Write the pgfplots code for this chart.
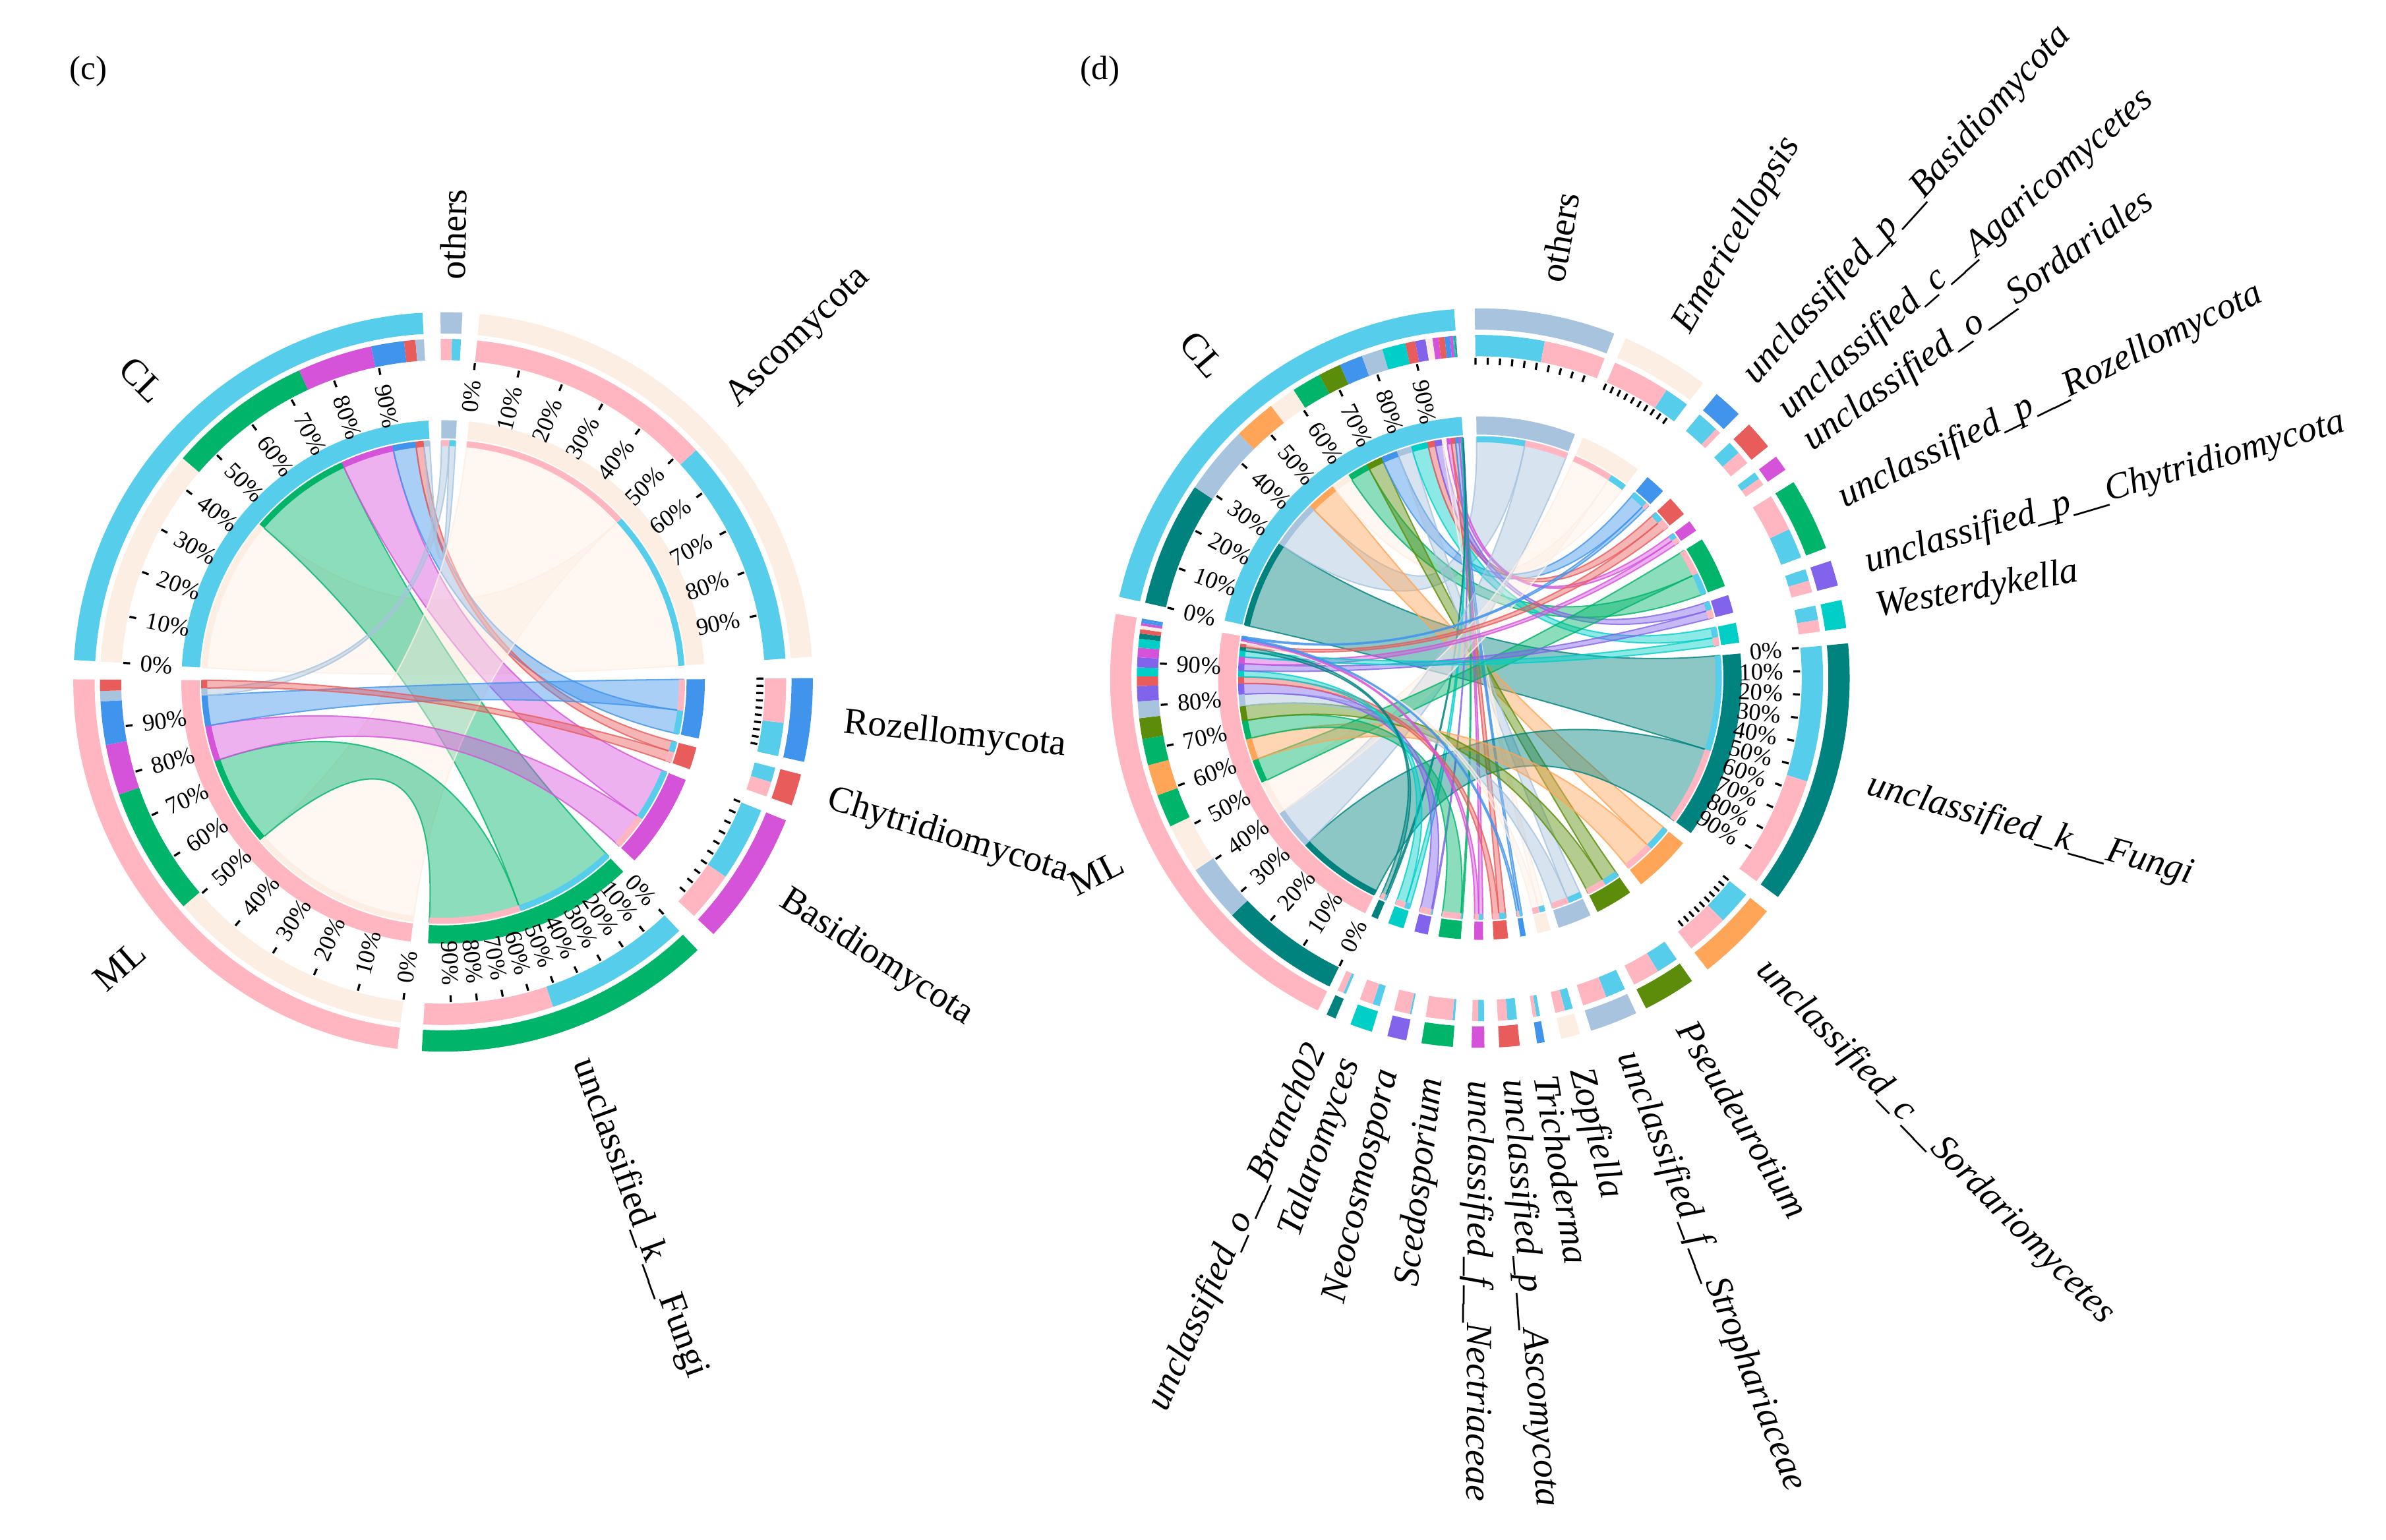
\documentclass[border=0pt]{standalone}
\usepackage{fontspec}
\setmainfont{Liberation Serif}
\usepackage{pgfplots}
\pgfplotsset{compat=1.18}

\definecolor{colCL}{HTML}{56CDEB}
\definecolor{colML}{HTML}{FFB6C1}
\definecolor{colSteel}{HTML}{A7C3DE}
\definecolor{colPeach}{HTML}{FDEEE3}
\definecolor{colBlue}{HTML}{4194EC}
\definecolor{colRed}{HTML}{E95C5C}
\definecolor{colMag}{HTML}{D453D9}
\definecolor{colGreen}{HTML}{00B46A}
\definecolor{colPurple}{HTML}{8264EC}
\definecolor{colTurq}{HTML}{00CFC8}
\definecolor{colTeal}{HTML}{00837F}
\definecolor{colOrange}{HTML}{FFA557}
\definecolor{colOlive}{HTML}{5B8D0A}

% sector: name, start angle, end angle (clockwise), colour
\newcommand\defsec[4]{\expandafter\def\csname sS#1\endcsname{#2}\expandafter\def\csname sE#1\endcsname{#3}\expandafter\def\csname sC#1\endcsname{#4}}

% ---- panel (c)
\defsec{cCL}{176.6}{93.2}{colCL}
\defsec{cot}{90.4}{87.0}{colSteel}
\defsec{cAs}{84.3}{3.9}{colPeach}
\defsec{cRo}{0.6}{-12.5}{colBlue}
\defsec{cCh}{-14.5}{-19.5}{colRed}
\defsec{cBa}{-22.0}{-43.0}{colMag}
\defsec{cUk}{-46.5}{-93.3}{colGreen}
\defsec{cML}{262.9}{179.6}{colML}
% group/percent from/percent to/taxon/fraction from/fraction to
\def\linksc{cCL/0/44.7/cAs/0.52/1, cCL/44.7/74.1/cUk/0/0.53, cCL/74.1/89.3/cBa/0/0.6, cCL/89.3/96.0/cRo/0.57/1, cCL/96.0/98.3/cCh/0/0.5, cCL/98.3/100/cot/0.55/1,
 cML/0/50.5/cAs/0/0.52, cML/50.5/76.5/cUk/0.53/1, cML/76.5/86.8/cBa/0.6/1, cML/86.8/95.6/cRo/0/0.57, cML/95.6/97.7/cot/0/0.55, cML/97.7/100/cCh/0.5/1}

% ---- panel (d)
\defsec{dCL}{167.3}{94.0}{colCL}
\defsec{dML}{244.0}{170.0}{colML}
\defsec{dot}{90.8}{68.7}{colSteel}
\defsec{dEm}{66.8}{52.9}{colPeach}
\defsec{dpB}{50.2}{45.6}{colBlue}
\defsec{dcA}{43.3}{38.8}{colRed}
\defsec{doS}{36.8}{34.3}{colMag}
\defsec{dpR}{32.0}{20.6}{colGreen}
\defsec{dpC}{18.5}{14.5}{colPurple}
\defsec{dWe}{12.2}{7.8}{colTurq}
\defsec{dkF}{5.4}{-36.3}{colTeal}
\defsec{dcS}{-39.1}{-52.0}{colOrange}
\defsec{dPs}{-55.0}{-63.3}{colOlive}
\defsec{dfS}{-65.0}{-72.5}{colSteel}
\defsec{dZo}{-74.3}{-77.3}{colPeach}
\defsec{dTr}{-79.9}{-81.1}{colBlue}
\defsec{dpA}{-83.8}{-87.0}{colRed}
\defsec{dfN}{-89.3}{-91.3}{colMag}
\defsec{dSc}{-94.2}{-99.1}{colGreen}
\defsec{dNe}{-101.5}{-104.5}{colPurple}
\defsec{dTa}{-107.0}{-110.5}{colTurq}
\defsec{doB}{-113.0}{-114.5}{colTeal}
\def\linksd{dCL/0/28.8/dkF/0/0.55, dCL/28.8/44.6/dot/0/0.53, dCL/44.6/54.3/dcS/0/0.45, dCL/54.3/60.6/dEm/0.7/1, dCL/60.6/67.4/dpR/0.55/1,
 dCL/67.4/72.6/dPs/0/0.45, dCL/72.6/78.0/dpB/0/0.8, dCL/78.0/82.9/dfS/0/0.45, dCL/82.9/88.3/dWe/0/0.55, dCL/88.3/90.6/dcA/0/0.5,
 dCL/90.6/93.0/dpC/0/0.5, dCL/93.0/94.6/dZo/0/0.45, dCL/94.6/96.0/doS/0/0.5, dCL/96.0/97.4/dpA/0/0.5, dCL/97.4/98.6/dTr/0/0.5,
 dCL/98.6/99.3/dfN/0/0.5, dCL/99.3/99.6/dTa/0/0.35, dCL/99.6/99.8/dSc/0/0.08, dCL/99.8/99.9/dNe/0/0.1, dCL/99.9/100/doB/0/0.3,
 dML/0/27.4/dkF/0.55/1, dML/27.4/40.5/dot/0.53/1, dML/40.5/51.9/dEm/0/0.7, dML/51.9/59.5/dpR/0/0.55, dML/59.5/66.6/dcS/0.45/1,
 dML/66.6/72.6/dSc/0.08/1, dML/72.6/77.4/dPs/0.45/1, dML/77.4/81.2/dfS/0.45/1, dML/81.2/84.7/dNe/0.1/1, dML/84.7/86.9/dpA/0.5/1,
 dML/86.9/88.9/dTa/0.35/1, dML/88.9/91.2/dpC/0.5/1, dML/91.2/93.4/doS/0.5/1, dML/93.4/95.4/dWe/0.55/1, dML/95.4/96.6/doB/0.3/1,
 dML/96.6/97.6/dcA/0.5/1, dML/97.6/98.4/dZo/0.45/1, dML/98.4/99.0/dfN/0.5/1, dML/99.0/99.5/dTr/0.5/1, dML/99.5/100/dpB/0.8/1}

\tikzset{labf/.style={font=\fontsize{6.9}{8}\selectfont,inner sep=0pt},
 pctf/.style={font=\fontsize{4.5}{5}\selectfont,inner sep=0pt}}

\newcommand\band[5]{\fill[fill=#5] (#1:#3) arc[start angle=#1,end angle=#2,radius=#3] -- (#2:#4) arc[start angle=#2,end angle=#1,radius=#4] -- cycle;}

\newcommand\secloop[1]{\foreach \nm in {#1}{%
  \edef\sS{\csname sS\nm\endcsname}\edef\sE{\csname sE\nm\endcsname}\edef\sC{\csname sC\nm\endcsname}%
  \band{\sS}{\sE}{229}{243}{\sC}\band{\sS}{\sE}{160}{172}{\sC}}}

\newcommand\linkloop[2]{\foreach \grp/\xa/\xb/\tax/\ya/\yb in #1{%
  \edef\gS{\csname sS\grp\endcsname}\edef\gE{\csname sE\grp\endcsname}\edef\gC{\csname sC\grp\endcsname}%
  \edef\tS{\csname sS\tax\endcsname}\edef\tE{\csname sE\tax\endcsname}\edef\tC{\csname sC\tax\endcsname}%
  \pgfmathsetmacro\Aa{\gS-(\xa)/100*(\gS-(\gE))}%
  \pgfmathsetmacro\Ab{\gS-(\xb)/100*(\gS-(\gE))}%
  \pgfmathsetmacro\Ba{\tS-(\ya)*(\tS-(\tE))}%
  \pgfmathsetmacro\Bb{\tS-(\yb)*(\tS-(\tE))}%
  \ifnum#2=1\relax
   \fill[fill=\tC,fill opacity=0.45,draw=\tC,draw opacity=0.8,line width=0.25pt] (\Aa:158) arc[start angle=\Aa,end angle=\Ab,radius=158] .. controls (\Ab:55) and (\Ba:55) .. (\Ba:158) arc[start angle=\Ba,end angle=\Bb,radius=158] .. controls (\Bb:55) and (\Aa:55) .. cycle;%
  \else
   \band{\Aa}{\Ab}{211.5}{225.5}{\tC}\band{\Aa}{\Ab}{155}{159}{\tC}%
   \band{\Ba}{\Bb}{211.5}{225.5}{\gC}\band{\Ba}{\Bb}{155}{159}{\gC}%
  \fi}}

\newcommand\tickloop[1]{\foreach \nm/\md in {#1}{%
  \edef\sS{\csname sS\nm\endcsname}\edef\sE{\csname sE\nm\endcsname}%
  \foreach \kk in {0,...,9}{%
   \pgfmathsetmacro\ang{\sS-\kk/10*(\sS-(\sE))}%
   \draw[line width=0.4pt] (\ang:206) -- (\ang:210.5);%
   \ifnum\md=2\relax
    \pgfmathtruncatemacro\pc{10*\kk}%
    \pgfmathtruncatemacro\rt{cos(\ang)>-0.035}%
    \ifnum\rt=1\relax
     \node[pctf,rotate=\ang,anchor=east] at (\ang:200) {\pc\%};%
    \else
     \pgfmathsetmacro\rotang{\ang+180}%
     \node[pctf,rotate=\rotang,anchor=west] at (\ang:200) {\pc\%};%
    \fi
   \fi}}}

\newcommand\nameloop[1]{\foreach \nm/\txt in {#1}{%
  \edef\sS{\csname sS\nm\endcsname}\edef\sE{\csname sE\nm\endcsname}%
  \pgfmathsetmacro\ang{(\sS+\sE)/2}%
  \pgfmathtruncatemacro\rt{cos(\ang)>-0.035}%
  \ifnum\rt=1\relax
   \node[labf,rotate=\ang,anchor=west] at (\ang:264) {\txt};%
  \else
   \pgfmathsetmacro\rotang{\ang+180}%
   \node[labf,rotate=\rotang,anchor=east] at (\ang:264) {\txt};%
  \fi}}

\begin{document}
\begin{tikzpicture}[x=0.01cm,y=0.01cm]

\begin{axis}[at={(2.91cm,5.635cm)},anchor=center,x=0.01cm,y=0.01cm,
  xmin=-280,xmax=280,ymin=-280,ymax=280,hide axis,clip=false]
\pgfplotsextra{%
 \begin{scope}[shift={(axis cs:0,0)},x=0.01cm,y=0.01cm]
  \linkloop\linksc{1}
  \secloop{cCL,cML,cot,cAs,cRo,cCh,cBa,cUk}
  \linkloop\linksc{2}
  \tickloop{cCL/2,cML/2,cAs/2,cUk/2,cBa/1,cRo/1}
  \nameloop{cCL/CL,cML/ML,cot/others,cAs/Ascomycota,cRo/Rozellomycota,cCh/Chytridiomycota,cBa/Basidiomycota,cUk/unclassified\_k\_\_Fungi}
 \end{scope}}
\end{axis}

\begin{axis}[at={(9.72cm,5.66cm)},anchor=center,x=0.01cm,y=0.01cm,
  xmin=-280,xmax=280,ymin=-280,ymax=280,hide axis,clip=false]
\pgfplotsextra{%
 \begin{scope}[shift={(axis cs:0,0)},x=0.01cm,y=0.01cm]
  \linkloop\linksd{1}
  \secloop{dCL,dML,dot,dEm,dpB,dcA,doS,dpR,dpC,dWe,dkF,dcS,dPs,dfS,dZo,dTr,dpA,dfN,dSc,dNe,dTa,doB}
  \linkloop\linksd{2}
  \tickloop{dCL/2,dML/2,dkF/2,dot/1,dEm/1,dcS/1}
  \nameloop{dCL/CL,dML/ML,dot/others,dEm/\textit{Emericellopsis},dpB/\textit{unclassified\_p\_\_Basidiomycota},
   dcA/\textit{unclassified\_c\_\_Agaricomycetes},doS/\textit{unclassified\_o\_\_Sordariales},
   dpR/\textit{unclassified\_p\_\_Rozellomycota},dpC/\textit{unclassified\_p\_\_Chytridiomycota},
   dWe/\textit{Westerdykella},dkF/\textit{unclassified\_k\_\_Fungi},dcS/\textit{unclassified\_c\_\_Sordariomycetes},
   dPs/\textit{Pseudeurotium},dfS/\textit{unclassified\_f\_\_Strophariaceae},dZo/\textit{Zopfiella},
   dTr/\textit{Trichoderma},dpA/\textit{unclassified\_p\_\_Ascomycota},dfN/\textit{unclassified\_f\_\_Nectriaceae},
   dSc/\textit{Scedosporium},dNe/\textit{Neocosmospora},dTa/\textit{Talaromyces},doB/\textit{unclassified\_o\_\_Branch02}}
 \end{scope}}
\end{axis}

\node[font=\fontsize{6.3}{7}\selectfont,inner sep=0pt] at (58,965) {(c)};
\node[font=\fontsize{6.3}{7}\selectfont,inner sep=0pt] at (723,965) {(d)};

\pgfresetboundingbox
\path (0,0) rectangle (1568,1012);
\end{tikzpicture}
\end{document}
